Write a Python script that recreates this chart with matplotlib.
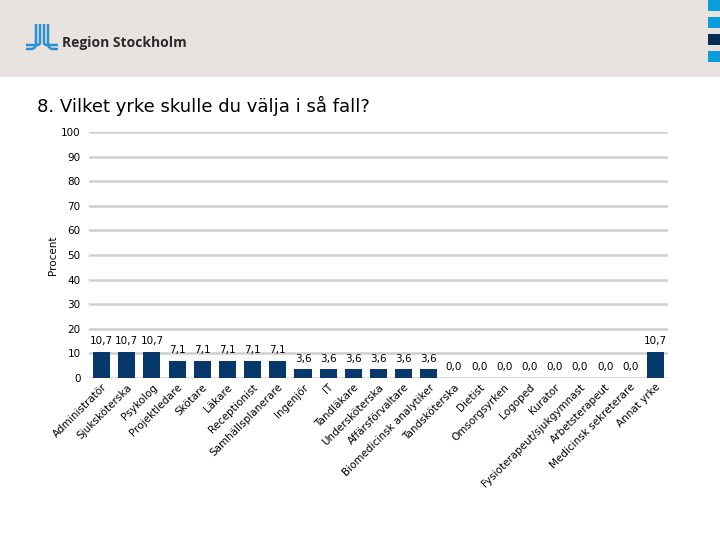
import numpy as np
import matplotlib
matplotlib.use('Agg')
import matplotlib.pyplot as plt
from matplotlib.patches import Rectangle

categories = ['Administratör', 'Sjuksköterska', 'Psykolog', 'Projektledare', 'Skötare',
              'Läkare', 'Receptionist', 'Samhällsplanerare', 'Ingenjör', 'IT', 'Tandläkare',
              'Undersköterska', 'Affärsförvaltare', 'Biomedicinsk analytiker', 'Tandsköterska',
              'Dietist', 'Omsorgsyrken', 'Logoped', 'Kurator', 'Fysioterapeut/sjukgymnast',
              'Arbetsterapeut', 'Medicinsk sekreterare', 'Annat yrke']
values = [10.7, 10.7, 10.7, 7.1, 7.1, 7.1, 7.1, 7.1, 3.6, 3.6, 3.6, 3.6, 3.6, 3.6,
          0.0, 0.0, 0.0, 0.0, 0.0, 0.0, 0.0, 0.0, 10.7]
yticks = list(range(0, 101, 10))

navy = '#06386b'
fig = plt.figure(figsize=(7.2, 5.4), dpi=100)

# header band, logo and squares drawn in pixel coords
deco = fig.add_axes([0, 0, 1, 1])
deco.set_xlim(0, 720)
deco.set_ylim(540, 0)
deco.axis('off')
deco.add_patch(Rectangle((0, 0), 720, 77, color='#e8e3de', lw=0))
for y0, c in [(0, '#0a9ddc'), (17, '#0a9ddc'), (34, '#062d55'), (51, '#0a9ddc')]:
    deco.add_patch(Rectangle((708, y0), 12, 11, color=c, lw=0))

def curve(xv, ytop, ybot, xend, r):
    # vertical stroke that bends into a horizontal one
    s = np.sign(xend - xv)
    t = np.linspace(0, np.pi / 2, 20)
    cx = xv + s * r
    cy = ybot - r
    xs = [xv] + list(cx - s * r * np.cos(t)) + [xend]
    ys = [ytop] + list(cy + r * np.sin(t)) + [ybot]
    return xs, ys

for xv, yb, r in [(36, 49, 5), (40, 45, 2.5)]:
    xs, ys = curve(xv, 24, yb, 26, r)
    deco.plot(xs, ys, color='#2a8fd4', lw=1.8, solid_capstyle='butt')
for xv, yb, r in [(48, 49, 5), (44, 45, 2.5)]:
    xs, ys = curve(xv, 24, yb, 58, r)
    deco.plot(xs, ys, color='#2a8fd4', lw=1.8, solid_capstyle='butt')
deco.text(62, 47, 'Region Stockholm', fontsize=10, fontweight='bold', family='Open Sans',
          color='#2b2b2b', va='baseline', ha='left')

fig.text(37 / 720, 1 - 106 / 540, '8. Vilket yrke skulle du välja i så fall?',
         fontsize=13, ha='left', va='center', color='black', family='DejaVu Sans')

ax = fig.add_axes([89 / 720, 0.3, (668 - 89) / 720, (378 - 132) / 540])
x = np.arange(len(categories))
bars = ax.bar(x, values, width=0.68, color=navy, zorder=3)
ax.set_xlim(-0.5, len(categories) - 0.5)
ax.set_ylim(0, 100)
ax.set_yticks(yticks)
ax.set_yticklabels([str(v) for v in yticks], fontsize=7.5)
ax.yaxis.grid(True, color='#cfcfcf', lw=1.8, zorder=0)
ax.tick_params(axis='y', length=0, pad=6)
ax.tick_params(axis='x', length=0, pad=3)
for s in ax.spines.values():
    s.set_visible(False)
ax.set_xticks(x)
ax.set_xticklabels(categories, rotation=45, ha='right', rotation_mode='anchor', fontsize=7.5)
ax.set_ylabel('Procent', fontsize=7.5, labelpad=2)

for xi, v in zip(x, values):
    ax.annotate(f'{v:.1f}'.replace('.', ','), (xi, v), xytext=(0, 4),
                textcoords='offset points', ha='center', va='bottom', fontsize=7.5)

fig.savefig('out.png', dpi=100, facecolor='white')
